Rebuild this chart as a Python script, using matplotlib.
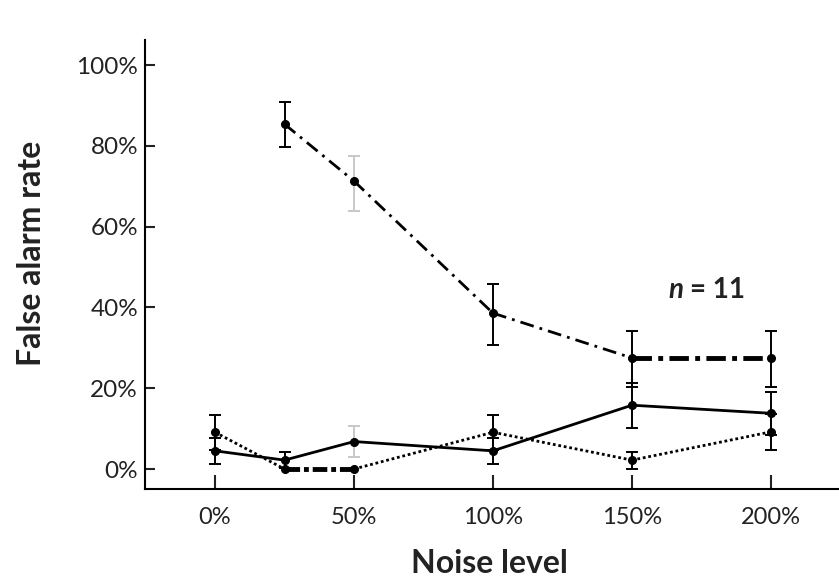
import numpy as np
import matplotlib.pyplot as plt
from matplotlib.ticker import FixedLocator

plt.rcParams['font.family'] = ['Lato', 'DejaVu Sans']

# noise levels (%)
x_a = [25, 50, 100, 150, 200]
y_a = [85.4, 71.3, 38.6, 27.5, 27.5]
lo_a = [79.7, 63.9, 30.7, 20.4, 20.4]
hi_a = [90.8, 77.5, 45.8, 34.2, 34.2]

x_b = [0, 25, 50, 100, 150, 200]
y_b = [4.5, 2.2, 6.8, 4.5, 15.8, 13.8]
lo_b = [1.2, 0.3, 3.0, 1.3, 10.2, 8.5]
hi_b = [7.7, 4.2, 10.6, 7.7, 21.4, 19.1]

x_c = [0, 25, 50, 100, 150, 200]
y_c = [9.1, 0.0, 0.0, 9.1, 2.2, 9.2]
lo_c = [4.8, 0.0, 0.0, 4.8, 0.0, 4.7]
hi_c = [13.4, 0.0, 0.0, 13.4, 4.3, 13.7]

x_ticks = [0, 50, 100, 150, 200]
x_labels = ["0%", "50%", "100%", "150%", "200%"]
y_ticks = [0, 20, 40, 60, 80, 100]
y_labels = ["0%", "20%", "40%", "60%", "80%", "100%"]

fig = plt.figure(figsize=(8.39, 5.77), dpi=100)
ax = fig.add_axes([0.1728, 0.1525, 0.8272, 0.778])

dashdot = (0, (5, 2.2, 1, 2.2))
dotted = (0, (1, 1))


def draw_segments(xs, ys, styles):
    for i in range(len(xs) - 1):
        ls, lw = styles[i]
        ax.plot(xs[i:i + 2], ys[i:i + 2], color="black", linestyle=ls,
                linewidth=lw, solid_capstyle="butt", dash_capstyle="butt")


def draw_errors(xs, ys, lo, hi, gray_at=()):
    for x, y, l, h in zip(xs, ys, lo, hi):
        if h - l <= 0:
            continue
        col = "#c8c8c8" if x in gray_at else "black"
        ax.errorbar([x], [y], yerr=[[y - l], [h - y]], fmt="none",
                    ecolor=col, elinewidth=1.4, capsize=4.5, capthick=1.4)


draw_errors(x_a, y_a, lo_a, hi_a, gray_at=(50,))
draw_errors(x_b, y_b, lo_b, hi_b, gray_at=(50,))
draw_errors(x_c, y_c, lo_c, hi_c)

draw_segments(x_a, y_a, [(dashdot, 2.0)] * 3 + [((0, (4, 1.3, 1, 1.3)), 3.5)])
draw_segments(x_b, y_b, [("-", 2.0)] * 5)
draw_segments(x_c, y_c, [(dotted, 2.0), ((0, (3, 0.8, 1, 0.8)), 3.5)] + [(dotted, 2.0)] * 3)

for xs, ys in [(x_a, y_a), (x_b, y_b), (x_c, y_c)]:
    ax.plot(xs, ys, linestyle="none", marker="o", markersize=5.5, color="black")

ax.set_xlim(-25.2, 224.5)
ax.set_ylim(-4.95, 106.2)

ax.spines["top"].set_visible(False)
ax.spines["right"].set_visible(False)
ax.spines["left"].set_linewidth(1.5)
ax.spines["bottom"].set_linewidth(1.5)

ax.xaxis.set_major_locator(FixedLocator(x_ticks))
ax.set_xticklabels(x_labels)
ax.yaxis.set_major_locator(FixedLocator(y_ticks))
ax.set_yticklabels(y_labels)
ax.tick_params(axis="x", direction="in", length=10, width=1.5, pad=13,
               labelsize=17, colors="#222222")
ax.tick_params(axis="y", direction="in", length=7, width=1.5, pad=5,
               labelsize=17.5, colors="#222222")
for t in ax.get_xticklines() + ax.get_yticklines():
    t.set_color("black")
ax.get_xticklines()[2].set_color("#c8c8c8")

ax.set_ylabel("False alarm rate", fontsize=23, fontweight="bold", va="center",
              color="#222222")
ax.yaxis.set_label_coords(-0.163, 0.526)
ax.set_xlabel("Noise level", fontsize=23, fontweight="bold", va="center",
              color="#222222")
ax.xaxis.set_label_coords(0.496, -0.165)

ax.text(168.5, 44.3, "n", fontsize=20, fontweight="bold", style="italic",
        ha="right", va="center", color="#222222")
ax.text(171, 44.3, "= 11", fontsize=20, fontweight="bold",
        ha="left", va="center", color="#222222")

fig.savefig("out.png", dpi=100)
